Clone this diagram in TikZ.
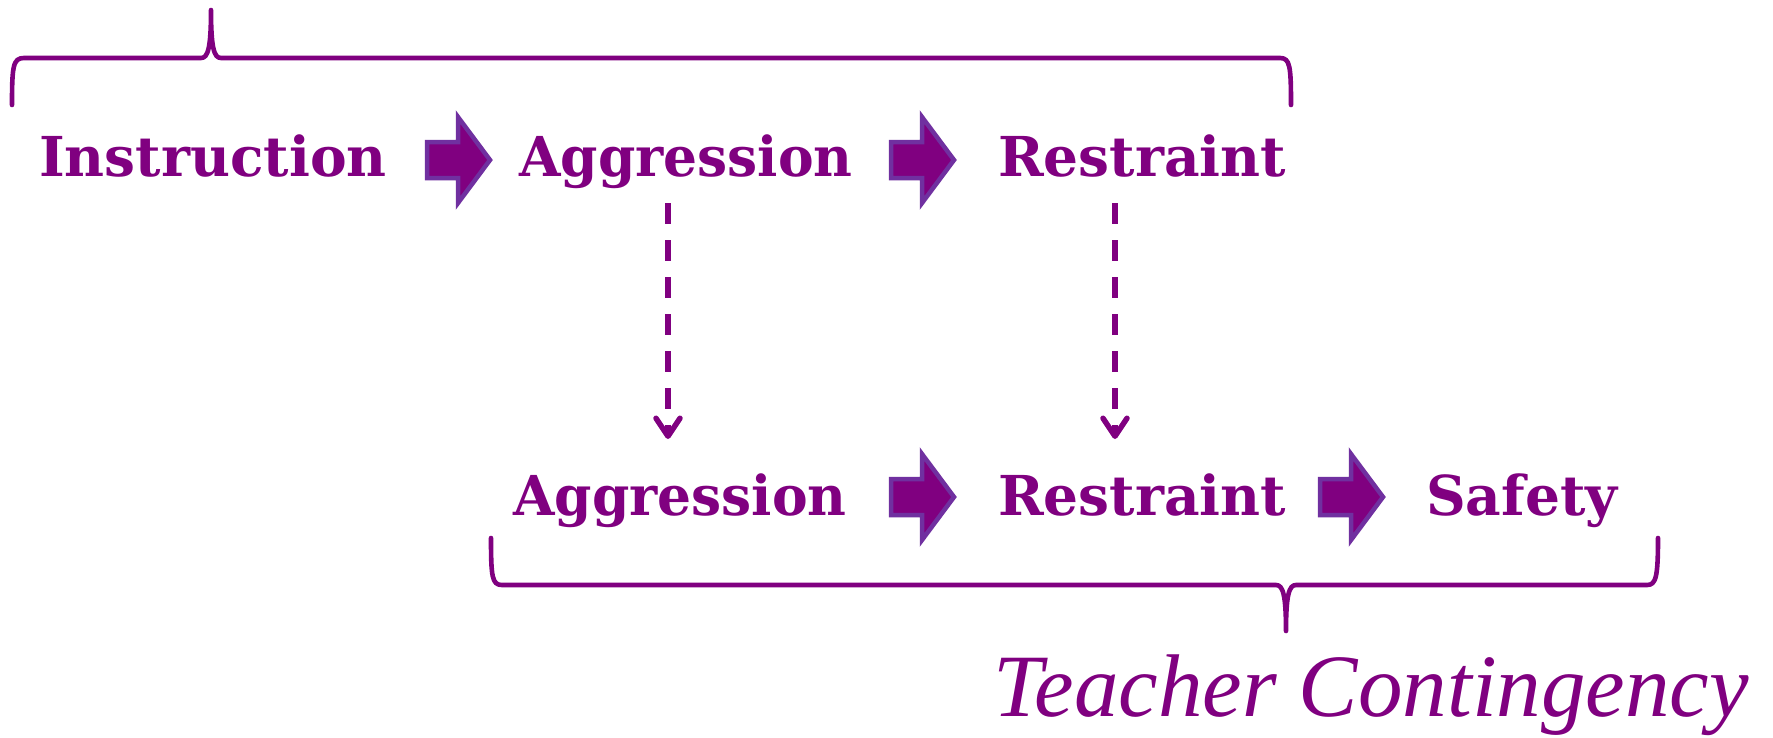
\documentclass[tikz,border=0pt]{standalone}
\usepackage{fontspec}
\usetikzlibrary{arrows.meta}
\newfontfamily\rowfam{DejaVu Serif}
\newfontfamily\rowfamn{DejaVu Serif}[FakeStretch=0.972]
\newfontfamily\capfam{Liberation Serif}
\definecolor{pur}{HTML}{800080}
\definecolor{vio}{HTML}{7030A0}
\newcommand\rowfont{\rowfam\bfseries\fontsize{55}{60}\selectfont}
\newcommand\rowfontn{\rowfamn\bfseries\fontsize{55}{60}\selectfont}
\newcommand\capfont{\capfam\itshape\fontsize{89}{95}\selectfont}
\begin{document}
\begin{tikzpicture}[x=1pt,y=-1pt,
  lbl/.style={anchor=base west,inner sep=0pt,text=pur,font=\rowfont},
  lbln/.style={lbl,font=\rowfontn},
  blockarr/.pic={\path[draw=vio, fill=pur, line width=4.5pt, line join=miter]
     (2,-18) -- (33,-18) -- (33,-43) -- (65,0) -- (33,43) -- (33,18) -- (2,18) -- cycle;},
  brace/.style={draw=pur, line width=4.6pt, line cap=round, line join=round},
  dasharrow/.style={draw=pur, line width=5.5pt, dash pattern=on 21pt off 16pt, -{Straight Barb[length=18pt,width=24pt,line width=5.5pt,round]}}]
\useasboundingbox[fill=white] (0,0) rectangle (1773,737);
% top brace
\draw[brace] (12,105) .. controls (12,66) and (13,58) .. (24,58) -- (201,58) .. controls (208,58) and (211,48) .. (211,10) .. controls (211,48) and (214,58) .. (221,58) -- (1280,58) .. controls (1290,58) and (1291,66) .. (1291,105);
% bottom brace
\draw[brace] (491,538) .. controls (491,577) and (492,585) .. (502,585) -- (1276,585) .. controls (1283,585) and (1286,595) .. (1286,631) .. controls (1286,595) and (1289,585) .. (1296,585) -- (1647,585) .. controls (1656,585) and (1658,577) .. (1658,538);
% labels
\node[lbl] (ins) at (39,176) {Instruction};
\node[lbln] (ag1) at (519,176) {Aggression};
\node[lbl] (re1) at (998,176) {Restraint};
\node[lbln] (ag2) at (513,515) {Aggression};
\node[lbl] (re2) at (998,515) {Restraint};
\node[lbl] (saf) at (1426,515) {Safety};
\node[anchor=base west,inner sep=0pt,text=pur,font=\capfont] (cap) at (993,716) {Teacher Contingency};
% block arrows
\pic (a1) at (425,160) {blockarr};
\pic (a2) at (889,160) {blockarr};
\pic (a3) at (889,497) {blockarr};
\pic (a4) at (1318,497) {blockarr};
% dashed arrows
\coordinate (d1a) at (668,203);
\coordinate (d1b) at (668,439);
\coordinate (d2a) at (1115,203);
\coordinate (d2b) at (1115,439);
\draw[dasharrow] (d1a) -- (d1b);
\draw[dasharrow] (d2a) -- (d2b);
\end{tikzpicture}
\end{document}
